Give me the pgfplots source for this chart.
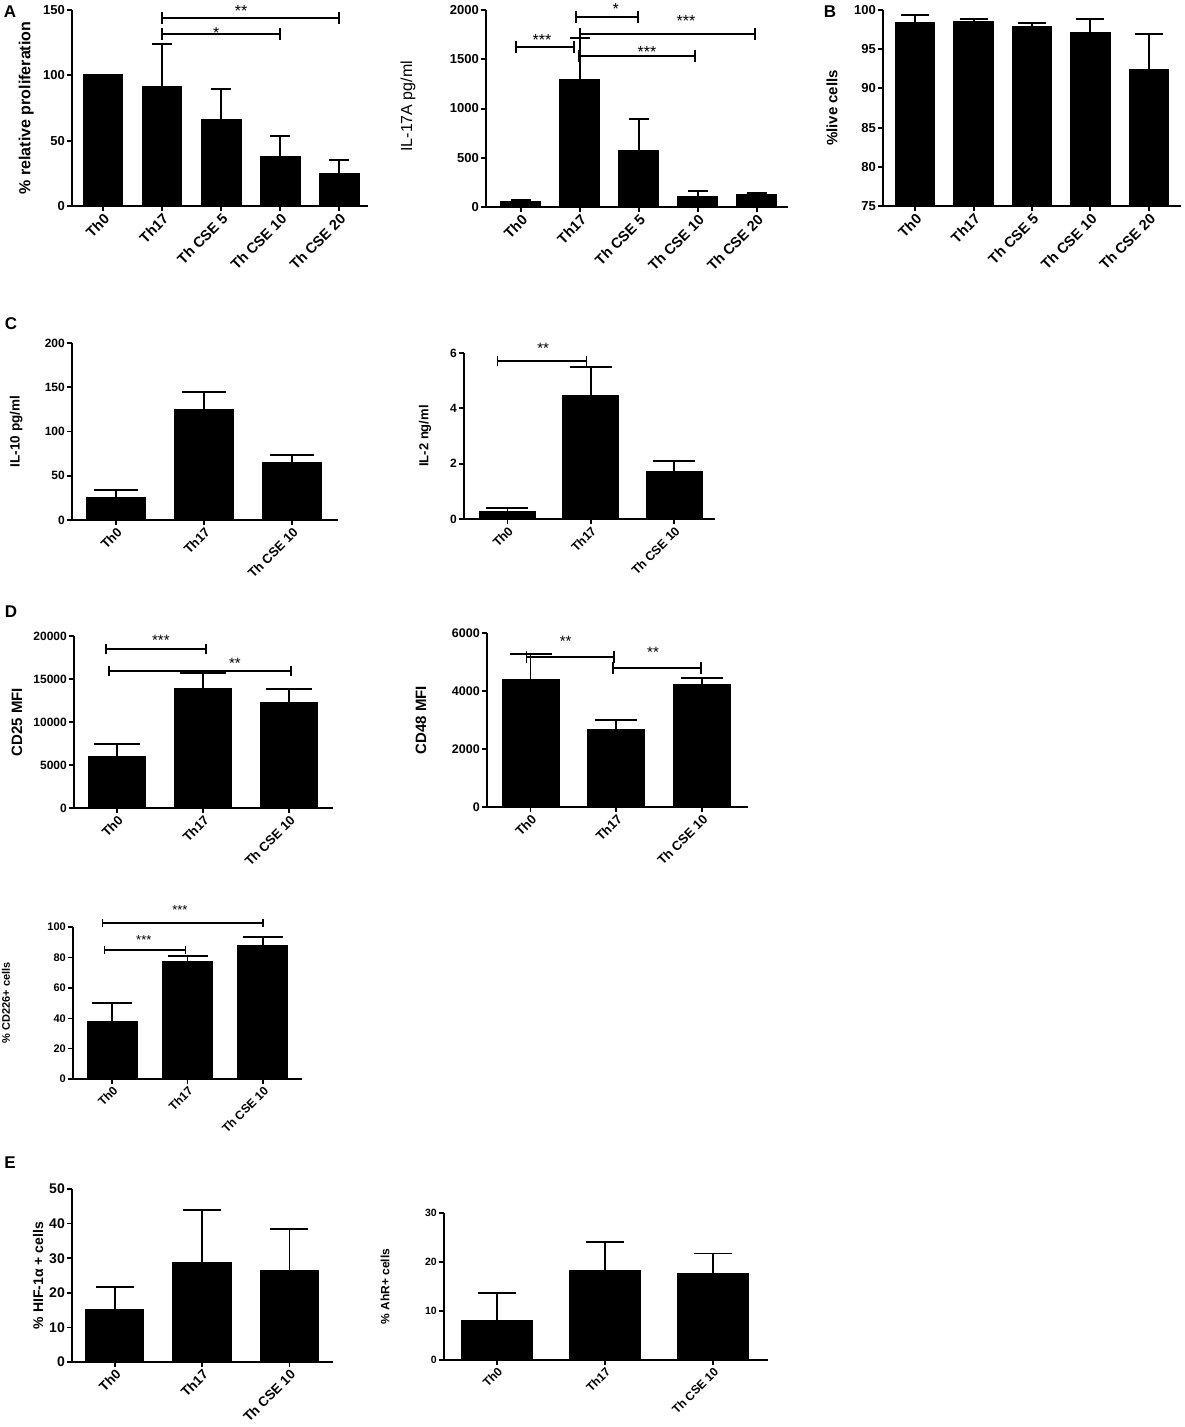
\documentclass[border=0pt]{standalone}
\usepackage{fontspec}
\setmainfont{Liberation Sans}
\usepackage{pgfplots}
\pgfplotsset{compat=1.18}

\newcommand{\fs}[1]{\fontsize{#1}{#1}\selectfont}
% significance bracket: x1 x2 y labelx labely text halfheight fontsize
\newcommand{\sig}[8]{%
  \draw[brk] (axis cs:#1,#3) -- (axis cs:#2,#3);
  \draw[brk] ([yshift=-#7]axis cs:#1,#3) -- ([yshift=#7]axis cs:#1,#3);
  \draw[brk] ([yshift=-#7]axis cs:#2,#3) -- ([yshift=#7]axis cs:#2,#3);
  \node[font=\fs{#8}, inner sep=0pt, anchor=center, yshift=-0.2*#8pt] at (axis cs:#4,#5) {#6};
}

\pgfplotsset{
  gp/.style={
    scale only axis,
    axis x line*=bottom, axis y line*=left,
    axis line style={-, line width=#1, black},
    tick style={line width=#1, black},
    tick align=outside, major tick length=5pt,
    clip=false,
    scaled y ticks=false,
    /pgf/number format/assume math mode=true,
    /pgf/number format/1000 sep={},
    xticklabel style={rotate=45, anchor=north east, inner sep=1pt},
    yticklabel style={inner sep=2pt},
    /tikz/brk/.style={line width=#1, black},
  },
  yl/.style={every axis y label/.style={at={(axis description cs:#1,0.5)}, rotate=90, anchor=center}},
  bars/.style n args={3}{ybar, bar width=0.66, fill=black, draw=black, line width=#1,
    error bars/.cd, y dir=plus, y explicit, error mark=|,
    error bar style={line width=#1, black},
    error mark options={line width=#1, black, mark size=#2},
  },
}

\begin{document}
\begin{tikzpicture}
\path[use as bounding box] (0,0) rectangle (1184pt,-1427pt);

% panel letters
\node[font=\fs{17}\bfseries] at (10pt,-12pt) {A};
\node[font=\fs{17}\bfseries] at (830pt,-12pt) {B};
\node[font=\fs{17}\bfseries] at (11pt,-324pt) {C};
\node[font=\fs{17}\bfseries] at (11pt,-612pt) {D};
\node[font=\fs{17}\bfseries] at (10pt,-1163pt) {E};

% ===== A1 =====
\begin{axis}[gp=2pt, at={(72pt,-206pt)}, anchor=south west, width=296pt, height=196pt,
  xmin=-0.525, xmax=4.49, ymin=0, ymax=150, ytick={0,50,100,150},
  xtick={0,1,2,3,4}, xticklabels={Th0,Th17,Th CSE 5,Th CSE 10,Th CSE 20},
  xticklabel style={font=\fs{14.5}\bfseries}, yticklabel style={font=\fs{13}\bfseries},
  yl=-0.155, ylabel={\fs{16}\bfseries \% relative proliferation}]
\addplot[bars={2pt}{10pt}{}] table[x=x,y=y,y error=e] {
x y e
0 100 0
1 91 33
2 66 23.5
3 37.5 16
4 24.5 10.5
};
\sig{1}{4}{144}{2.34}{152}{**}{6pt}{16}
\sig{1}{3}{132}{1.92}{135}{*}{6pt}{16}
\end{axis}

% ===== A2 =====
\begin{axis}[gp=2pt, at={(486pt,-207pt)}, anchor=south west, width=302pt, height=197pt,
  xmin=-0.59, xmax=4.53, ymin=0, ymax=2000, ytick={0,500,1000,1500,2000},
  xtick={0,1,2,3,4}, xticklabels={Th0,Th17,Th CSE 5,Th CSE 10,Th CSE 20},
  xticklabel style={font=\fs{14.5}\bfseries}, yticklabel style={font=\fs{13}\bfseries},
  yl=-0.258, ylabel={\fs{16} IL-17A pg/ml}]
\addplot[bars={2pt}{10pt}{}] table[x=x,y=y,y error=e] {
x y e
0 50 25
1 1290 425
2 570 320
3 100 60
4 125 20
};
\sig{-0.08}{0.9}{1624}{0.36}{1725}{***}{6pt}{16}
\sig{0.93}{1.98}{1928}{1.61}{2040}{*}{6pt}{16}
\sig{1.0}{3.97}{1756}{2.8}{1918}{***}{6pt}{16}
\sig{0.98}{2.95}{1533}{2.14}{1604}{***}{6pt}{16}
\end{axis}

% ===== B =====
\begin{axis}[gp=2pt, clip=true, at={(883pt,-206pt)}, anchor=south west, width=298pt, height=196pt,
  xmin=-0.55, xmax=4.55, ymin=75, ymax=100, ytick={75,80,85,90,95,100},
  xtick={0,1,2,3,4}, xticklabels={Th0,Th17,Th CSE 5,Th CSE 10,Th CSE 20},
  xticklabel style={font=\fs{14.5}\bfseries}, yticklabel style={font=\fs{13}\bfseries},
  yl=-0.171, ylabel={\fs{15}\bfseries \%live cells}]
\addplot[bars={2pt}{14pt}{}] table[x=x,y=y,y error=e] {
x y e
0 98.3 1.0
1 98.5 0.4
2 97.8 0.5
3 97.1 1.75
4 92.4 4.55
};
\end{axis}

% ===== C1 =====
\begin{axis}[gp=1.7pt, at={(72pt,-520pt)}, anchor=south west, width=266pt, height=177pt,
  xmin=-0.5, xmax=2.52, ymin=0, ymax=200, ytick={0,50,100,150,200},
  xtick={0,1,2}, xticklabels={Th0,Th17,Th CSE 10},
  xticklabel style={font=\fs{13}\bfseries}, yticklabel style={font=\fs{12}\bfseries},
  yl=-0.21, ylabel={\fs{13.5}\bfseries IL-10 pg/ml}]
\addplot[bars={1.7pt}{22pt}{}] table[x=x,y=y,y error=e] {
x y e
0 25 9
1 124 21
2 64.5 9
};
\end{axis}

% ===== C2 =====
\begin{axis}[gp=1.7pt, at={(464pt,-519pt)}, anchor=south west, width=251pt, height=166pt,
  xmin=-0.52, xmax=2.49, ymin=0, ymax=6, ytick={0,2,4,6},
  xtick={0,1,2}, xticklabels={Th0,Th17,Th CSE 10},
  xticklabel style={font=\fs{12.5}\bfseries}, yticklabel style={font=\fs{12}\bfseries},
  yl=-0.155, ylabel={\fs{13}\bfseries IL-2 ng/ml}]
\addplot[bars={1.7pt}{21pt}{}] table[x=x,y=y,y error=e] {
x y e
0 0.25 0.15
1 4.44 1.05
2 1.7 0.39
};
\sig{-0.12}{0.95}{5.7}{0.43}{6.28}{**}{5pt}{15}
\end{axis}

% ===== D1 =====
\begin{axis}[gp=1.7pt, at={(74pt,-808pt)}, anchor=south west, width=259pt, height=172pt,
  xmin=-0.5, xmax=2.51, ymin=0, ymax=20000, ytick={0,5000,10000,15000,20000},
  xtick={0,1,2}, xticklabels={Th0,Th17,Th CSE 10},
  xticklabel style={font=\fs{13}\bfseries}, yticklabel style={font=\fs{12}\bfseries},
  yl=-0.22, ylabel={\fs{15}\bfseries CD25 MFI}]
\addplot[bars={1.7pt}{23pt}{}] table[x=x,y=y,y error=e] {
x y e
0 5900 1550
1 13800 1900
2 12200 1600
};
\sig{-0.13}{1.03}{18500}{0.51}{19890}{***}{5pt}{15}
\sig{-0.09}{2.02}{15900}{1.37}{17200}{**}{5pt}{15}
\end{axis}

% ===== D2 =====
\begin{axis}[gp=1.7pt, at={(487pt,-807pt)}, anchor=south west, width=261pt, height=174pt,
  xmin=-0.51, xmax=2.54, ymin=0, ymax=6000, ytick={0,2000,4000,6000},
  xtick={0,1,2}, xticklabels={Th0,Th17,Th CSE 10},
  xticklabel style={font=\fs{13}\bfseries}, yticklabel style={font=\fs{12.5}\bfseries},
  yl=-0.253, ylabel={\fs{15}\bfseries CD48 MFI}]
\addplot[bars={1.7pt}{21pt}{}] table[x=x,y=y,y error=e] {
x y e
0 4400 880
1 2660 340
2 4200 250
};
\sig{-0.05}{0.97}{5170}{0.41}{5800}{**}{6pt}{15}
\sig{0.96}{1.99}{4800}{1.43}{5420}{**}{6pt}{15}
\end{axis}

% ===== D3 =====
\begin{axis}[gp=1.4pt, at={(73pt,-1079pt)}, anchor=south west, width=229pt, height=152pt,
  xmin=-0.52, xmax=2.52, ymin=0, ymax=100, ytick={0,20,40,60,80,100},
  xtick={0,1,2}, xticklabels={Th0,Th17,Th CSE 10},
  xticklabel style={font=\fs{12}\bfseries}, yticklabel style={font=\fs{11}\bfseries},
  yl=-0.293, ylabel={\fs{11}\bfseries \% CD226+ cells}]
\addplot[bars={1.4pt}{20pt}{}] table[x=x,y=y,y error=e] {
x y e
0 38 12
1 77 4
2 88 5.4
};
\sig{-0.1}{0.97}{85}{0.42}{93.4}{***}{4pt}{13}
\sig{-0.13}{2.0}{102.6}{0.9}{113}{***}{4pt}{13}
\end{axis}

% ===== E1 =====
\begin{axis}[gp=1.7pt, at={(72pt,-1362pt)}, anchor=south west, width=261pt, height=173pt,
  xmin=-0.49, xmax=2.5, ymin=0, ymax=50, ytick={0,10,20,30,40,50},
  xtick={0,1,2}, xticklabels={Th0,Th17,Th CSE 10},
  xticklabel style={font=\fs{13.5}\bfseries}, yticklabel style={font=\fs{14}\bfseries},
  yl=-0.13, ylabel={\fs{14}\bfseries \% HIF-1α + cells}]
\addplot[bars={1.7pt}{19pt}{}] table[x=x,y=y,y error=e] {
x y e
0 15 6.7
1 28.6 15.4
2 26.3 12.2
};
\end{axis}

% ===== E2 =====
\begin{axis}[gp=1.4pt, at={(444pt,-1360pt)}, anchor=south west, width=324pt, height=147pt,
  xmin=-0.49, xmax=2.51, ymin=0, ymax=30, ytick={0,10,20,30},
  xtick={0,1,2}, xticklabels={Th0,Th17,Th CSE 10},
  xticklabel style={font=\fs{12}\bfseries}, yticklabel style={font=\fs{10.5}\bfseries},
  yl=-0.182, ylabel={\fs{12}\bfseries \% AhR+ cells}]
\addplot[bars={1.4pt}{19pt}{}] table[x=x,y=y,y error=e] {
x y e
0 8 5.7
1 18.2 5.9
2 17.6 4.1
};
\end{axis}

\end{tikzpicture}
\end{document}
